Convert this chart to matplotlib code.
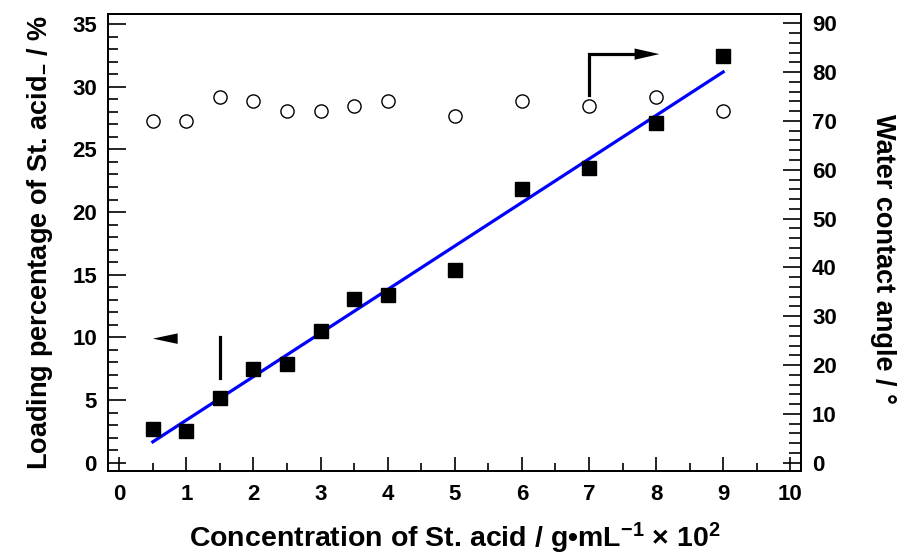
import numpy as np
import matplotlib
matplotlib.use('Agg')
import matplotlib.pyplot as plt
from matplotlib.patches import Polygon
from matplotlib.ticker import MultipleLocator

plt.rcParams['font.family'] = ['Liberation Sans', 'DejaVu Sans']
plt.rcParams['font.weight'] = 'bold'
plt.rcParams['mathtext.fontset'] = 'custom'
plt.rcParams['mathtext.rm'] = 'Liberation Sans:bold'
plt.rcParams['mathtext.bf'] = 'Liberation Sans:bold'
plt.rcParams['mathtext.it'] = 'Liberation Sans:bold'

# data
conc = [0.5, 1, 1.5, 2, 2.5, 3, 3.5, 4, 5, 6, 7, 8, 9]
loading = [2.7, 2.55, 5.2, 7.5, 7.9, 10.5, 13.05, 13.4, 15.4, 21.85, 23.5, 27.1, 32.45]
angle = [70, 70, 75, 74, 72, 72, 73, 74, 71, 74, 73, 75, 72]

# arrow guides (left axis units)
left_head = [0.50, 0.87, 9.9]       # tip x, base x, y
left_bar = [1.5, 6.75, 10.0]        # x, y0, y1
right_path_x = [7.0, 7.0, 7.72]
right_path_y = [29.35, 32.6, 32.6]
right_head = [8.05, 7.68, 32.6]     # tip x, base x, y

fig = plt.figure(figsize=(8.97, 5.55), dpi=100)
ax = fig.add_axes([108/897, 1 - 471/555, 693/897, 457/555])
ax2 = ax.twinx()

# linear fit of loading
k, b = np.polyfit(conc, loading, 1)
xf = np.array([conc[0], conc[-1]])
ax.plot(xf, k*xf + b, color='#0000ff', lw=2.3, zorder=3)
ax.plot(conc, loading, 's', color='k', ms=9.5, zorder=4)
ax2.plot(conc, angle, 'o', mfc='none', mec='k', mew=1.0, ms=9.5)

# arrows
ax.add_patch(Polygon([[left_head[0], left_head[2]],
                      [left_head[1], left_head[2] + 0.42],
                      [left_head[1], left_head[2] - 0.42]],
                     closed=True, color='k', lw=0))
ax.plot([left_bar[0], left_bar[0]], [left_bar[1], left_bar[2]], color='k', lw=2.3)
ax.plot(right_path_x, right_path_y, color='k', lw=2.3, solid_joinstyle='miter')
ax.add_patch(Polygon([[right_head[0], right_head[2]],
                      [right_head[1], right_head[2] + 0.45],
                      [right_head[1], right_head[2] - 0.45]],
                     closed=True, color='k', lw=0))

ax.set_xlim(-0.168, 10.16)
ax.set_ylim(-0.66, 35.8)
ax2.set_ylim(-1.70, 91.9)

ax.xaxis.set_major_locator(MultipleLocator(1))
ax.xaxis.set_minor_locator(MultipleLocator(0.5))
ax.yaxis.set_major_locator(MultipleLocator(5))
ax.yaxis.set_minor_locator(MultipleLocator(1))
ax2.yaxis.set_major_locator(MultipleLocator(10))
ax2.yaxis.set_minor_locator(MultipleLocator(2))

ax.tick_params(axis='x', which='major', direction='in', length=10, width=1.2,
               labelsize=16, pad=9, top=False)
ax.tick_params(axis='x', which='minor', direction='in', length=6, width=1.2, top=False)
ax.tick_params(axis='y', which='major', direction='in', length=13, width=1.2,
               labelsize=16, pad=8)
ax.tick_params(axis='y', which='minor', direction='in', length=7, width=1.2)
ax2.tick_params(axis='y', which='major', direction='in', length=13, width=1.2,
                labelsize=16, pad=8)
ax2.tick_params(axis='y', which='minor', direction='in', length=8.5, width=1.2)

for a in (ax, ax2):
    for s in a.spines.values():
        s.set_linewidth(1.3)

ax.set_xlabel(r'Concentration of St. acid / g•mL$^{-1}$ × 10$^{2}$',
              fontsize=20.5, fontweight='bold', labelpad=12)
ax.set_ylabel(r'Loading percentage of St. acid$_{-}$ / %',
              fontsize=19.5, fontweight='bold', labelpad=12)
ax2.set_ylabel('Water contact angle / °', fontsize=19.5, fontweight='bold',
               rotation=-90, va='center', ha='center')
ax2.yaxis.set_label_coords(1.118, 0.465)

fig.savefig('out.png', dpi=100)
